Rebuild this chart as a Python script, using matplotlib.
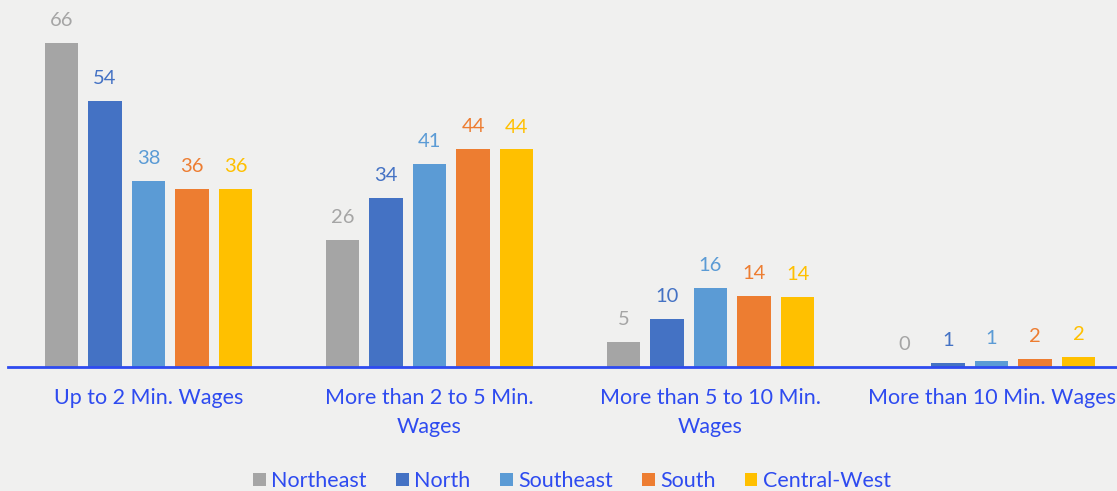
"""Income distribution by region, grouped bar chart."""

import numpy as np
import matplotlib
matplotlib.use("Agg")
import matplotlib.pyplot as plt

categories = [
    "Up to 2 Min. Wages",
    "More than 2 to 5 Min.\nWages",
    "More than 5 to 10 Min.\nWages",
    "More than 10 Min. Wages",
]
regions = ["Northeast", "North", "Southeast", "South", "Central-West"]

northeast = [66.0, 25.9, 5.1, 0.0]
north = [54.2, 34.4, 9.8, 0.8]
southeast = [37.9, 41.4, 16.1, 1.2]
south = [36.3, 44.4, 14.4, 1.7]
central_west = [36.2, 44.3, 14.3, 2.1]

series = [northeast, north, southeast, south, central_west]
colors = ["#A5A5A5", "#4472C4", "#5B9BD5", "#ED7D31", "#FFC000"]
text_blue = "#2E4BF0"
bg = "#F0F0EF"

plt.rcParams["font.family"] = ["Lato", "DejaVu Sans"]

fig = plt.figure(figsize=(11.17, 4.91), dpi=100, facecolor=bg)
ax = fig.add_axes([8 / 1117, 1 - 367 / 491, 1124 / 1117, 367 / 491])
ax.set_facecolor(bg)

x = np.arange(len(categories))
width = 0.119
pitch = 0.155
for i, (vals, color, name) in enumerate(zip(series, colors, regions)):
    offs = (i - 2) * pitch
    bars = ax.bar(x + offs, vals, width, color=color, label=name, zorder=2)
    ax.bar_label(bars, fmt="%.0f", padding=10, fontsize=14.5, color=color)

ax.set_xlim(-0.5, len(categories) - 0.5)
ax.set_ylim(0, 367 / 4.91)

for side in ["top", "right", "left"]:
    ax.spines[side].set_visible(False)
ax.spines["bottom"].set_color(text_blue)
ax.spines["bottom"].set_linewidth(2)
ax.set_yticks([])
ax.set_xticks(x)
ax.set_xticklabels(categories, fontsize=15.5, color=text_blue, linespacing=1.6)
ax.tick_params(axis="x", length=0, pad=15)

leg = fig.legend(
    loc="center",
    bbox_to_anchor=(572 / 1117, 1 - 481 / 491),
    ncol=5,
    frameon=False,
    fontsize=15.5,
    handlelength=0.6,
    handleheight=0.6,
    handletextpad=0.25,
    columnspacing=1.35,
)
for t in leg.get_texts():
    t.set_color(text_blue)

fig.savefig("out.png", dpi=100, facecolor=bg)
